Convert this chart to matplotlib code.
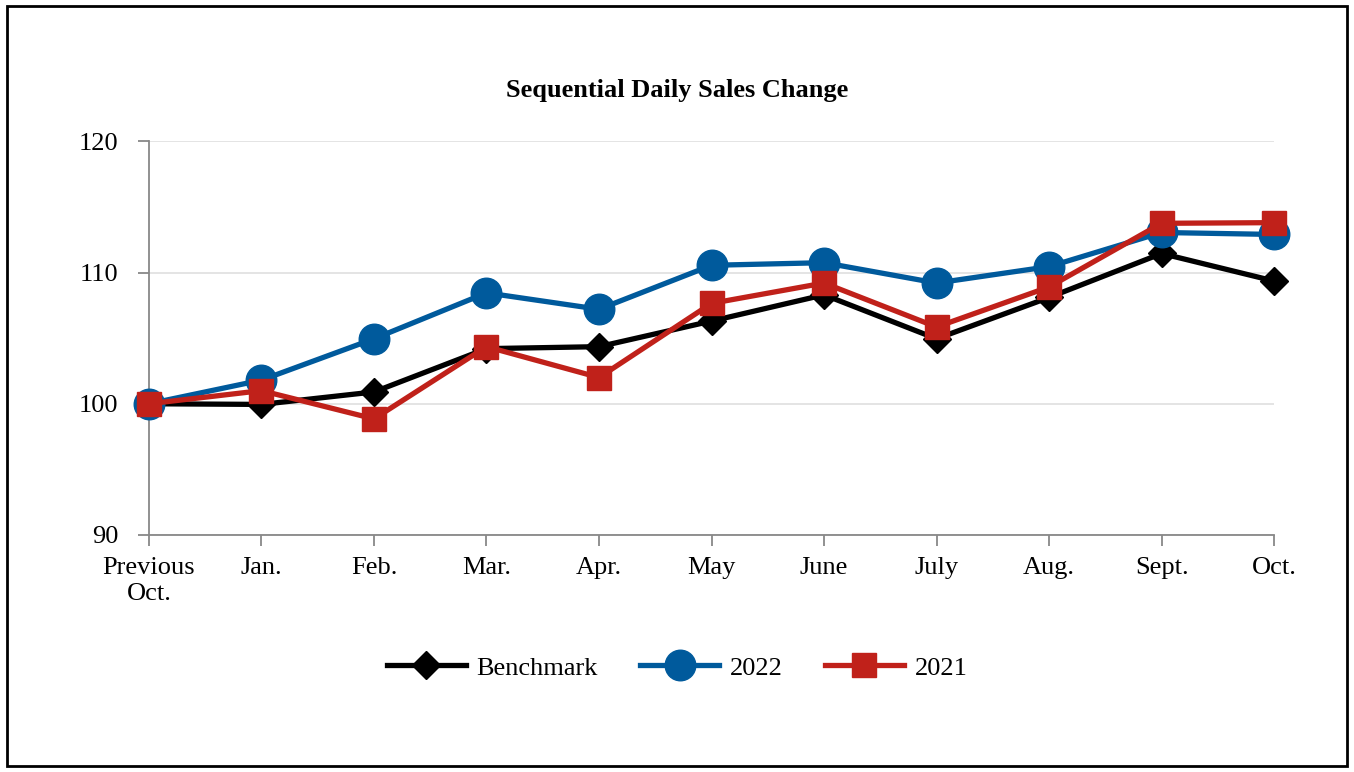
import matplotlib.pyplot as plt
from matplotlib.patches import Rectangle

plt.rcParams['font.family'] = ['Liberation Serif', 'DejaVu Serif']

months = ['Previous\nOct.', 'Jan.', 'Feb.', 'Mar.', 'Apr.', 'May', 'June', 'July', 'Aug.', 'Sept.', 'Oct.']
benchmark = [100.0, 99.95, 100.9, 104.2, 104.35, 106.3, 108.3, 104.95, 108.1, 111.45, 109.35]
y2022 = [100.0, 101.8, 104.95, 108.45, 107.2, 110.55, 110.75, 109.2, 110.45, 113.05, 112.9]
y2021 = [100.0, 101.0, 98.85, 104.35, 102.0, 107.65, 109.2, 105.85, 108.9, 113.75, 113.8]

fig = plt.figure(figsize=(13.54, 7.72), dpi=100)
ax = fig.add_axes([0.110, 0.307, 0.831, 0.510])

x = list(range(len(months)))
ax.plot(x, benchmark, color='black', lw=3.8, marker='D', ms=14, label='Benchmark', clip_on=False, zorder=3)
ax.plot(x, y2022, color='#005A9C', lw=3.8, marker='o', ms=22, label='2022', clip_on=False, zorder=4)
ax.plot(x, y2021, color='#C0211A', lw=3.8, marker='s', ms=17, label='2021', clip_on=False, zorder=5)

ax.set_xlim(0, 10)
ax.set_ylim(90, 120)
ax.set_yticks([90, 100, 110, 120])
ax.set_xticks(x)
ax.set_xticklabels(months)
ax.tick_params(axis='both', labelsize=19, color='#888888', length=8, width=1.3)
ax.tick_params(axis='x', pad=8)
ax.tick_params(axis='y', pad=14)
ax.grid(axis='y', color='#e2e2e2', lw=1.3)
ax.set_axisbelow(True)
for s in ['top', 'right']:
    ax.spines[s].set_visible(False)
for s in ['left', 'bottom']:
    ax.spines[s].set_color('#888888')
    ax.spines[s].set_linewidth(1.3)

fig.text(0.5, 1 - 90 / 772, 'Sequential Daily Sales Change', fontsize=19, fontweight='bold',
         ha='center', va='center')

fig.legend(loc='center', bbox_to_anchor=(0.5, 0.135), ncol=3, frameon=False, fontsize=19,
           handlelength=3.0, handletextpad=0.4, columnspacing=1.6)

fig.patches.append(Rectangle((0.005, 0.008), 0.99, 0.984, transform=fig.transFigure,
                             fill=False, edgecolor='black', lw=2))

fig.savefig('out.png', dpi=100)
